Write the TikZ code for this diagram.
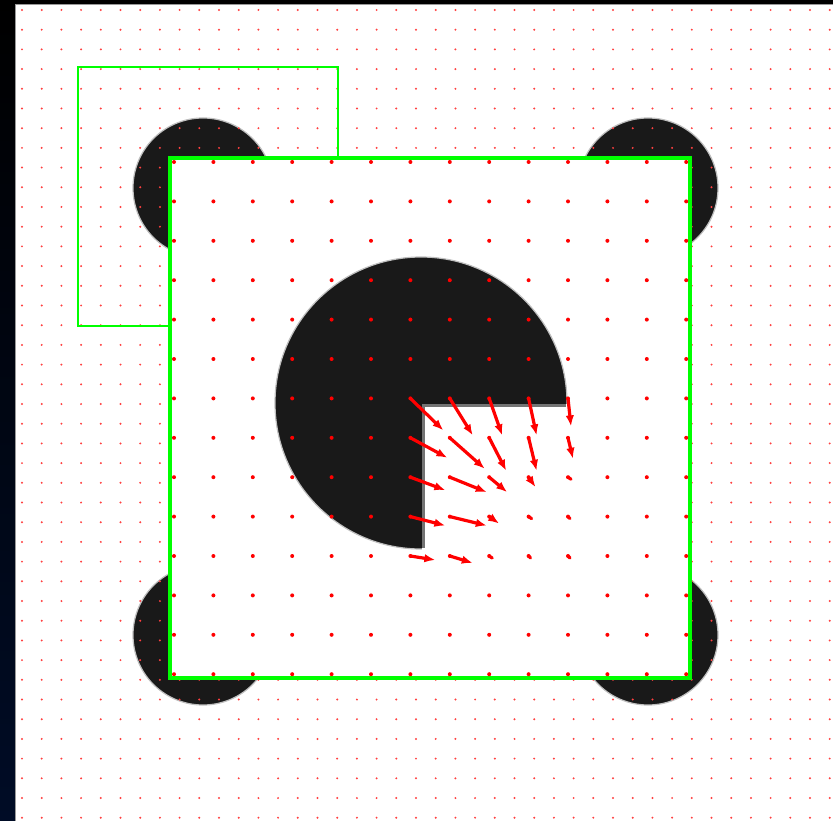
\documentclass[tikz,border=0pt]{standalone}
\usepackage{tikz}
\usetikzlibrary{arrows.meta,calc}
\definecolor{zoomgreen}{RGB}{0,255,0}
\definecolor{edgenavy}{RGB}{0,12,38}
\tikzset{
  bgdot/.style={fill=red!75,draw=none},
  zoomdot/.style={fill=red,draw=none},
  disc/.style={fill=black!90,draw=black!25,line width=1.2pt},
  lensbox/.style={draw=zoomgreen,line width=2.5pt},
  zoombox/.style={draw=zoomgreen,fill=white,line width=4pt},
  flowvec/.style={red,line width=3.2pt,-{Latex[length=11pt,width=8.5pt]}},
  tinyvec/.style={red,line width=3.2pt,line cap=round}
}

\begin{document}
\begin{tikzpicture}[x=1pt,y=-1pt]
\useasboundingbox (0,0) rectangle (833,821);

% screen frame
\fill[black] (0,0) rectangle (833,821);
\shade[top color=black,bottom color=edgenavy] (0,0) rectangle (15,821);
\fill[white] (15,4) rectangle (833,821);
\draw[black!40,line width=0.7pt] (15,821) -- (15,4) -- (833,4);

% the four discs
\coordinate (discnw) at (203,188);
\coordinate (discne) at (648,188);
\coordinate (discsw) at (203,635);
\coordinate (discse) at (648,635);
\foreach \d in {discnw,discne,discsw,discse}
  \filldraw[disc] (\d) circle (70);

% sample grid
\foreach \i in {0,...,41}
  \foreach \j in {0,...,41}
    \fill[bgdot] ({22+19.7*\i},{10+19.7*\j}) circle (1.1);

% lens
\draw[lensbox] (78,67) rectangle (338,326);

% zoomed view
\filldraw[zoombox] (170,158) rectangle (690,678);
\coordinate (pacc) at (421,403);
\filldraw[fill=black!90,draw=black!25,line width=1.2pt] (pacc) circle (146);
\fill[white] ($(pacc)+(1,1)$) rectangle ($(pacc)+(150,150)$);
\draw[black!55,line width=3pt] ($(pacc)+(145,2)$) -- ($(pacc)+(2,2)$) -- ($(pacc)+(2,145)$);

\foreach \i in {0,...,13}
  \foreach \j in {0,...,13}
    \fill[zoomdot] ({174+39.4*\i},{162+39.4*\j}) circle (2);

% flow vectors
\foreach \i/\j/\u/\v in {0/0/33/32,1/0/23/37,2/0/13/37,3/0/8/37,4/0/3/28,
    0/1/37/20,1/1/35/31,2/1/17/33,3/1/8/33,4/1/5/21,
    0/2/35/13,1/2/37/15,2/2/18/15,3/2/7/10,
    0/3/35/9,1/3/37/9,2/3/10/7,
    0/4/25/4,1/4/23/7}
  \draw[flowvec] ({410.4+39.4*\i},{398.4+39.4*\j}) -- ++(\u,\v);
\foreach \i/\j/\u/\v in {4/2/3/2,3/3/3/2,4/3/2/2,2/4/3/2,3/4/2/2,4/4/2/2}
  \draw[tinyvec] ({410.4+39.4*\i},{398.4+39.4*\j}) -- ++(\u,\v);

\end{tikzpicture}
\end{document}
